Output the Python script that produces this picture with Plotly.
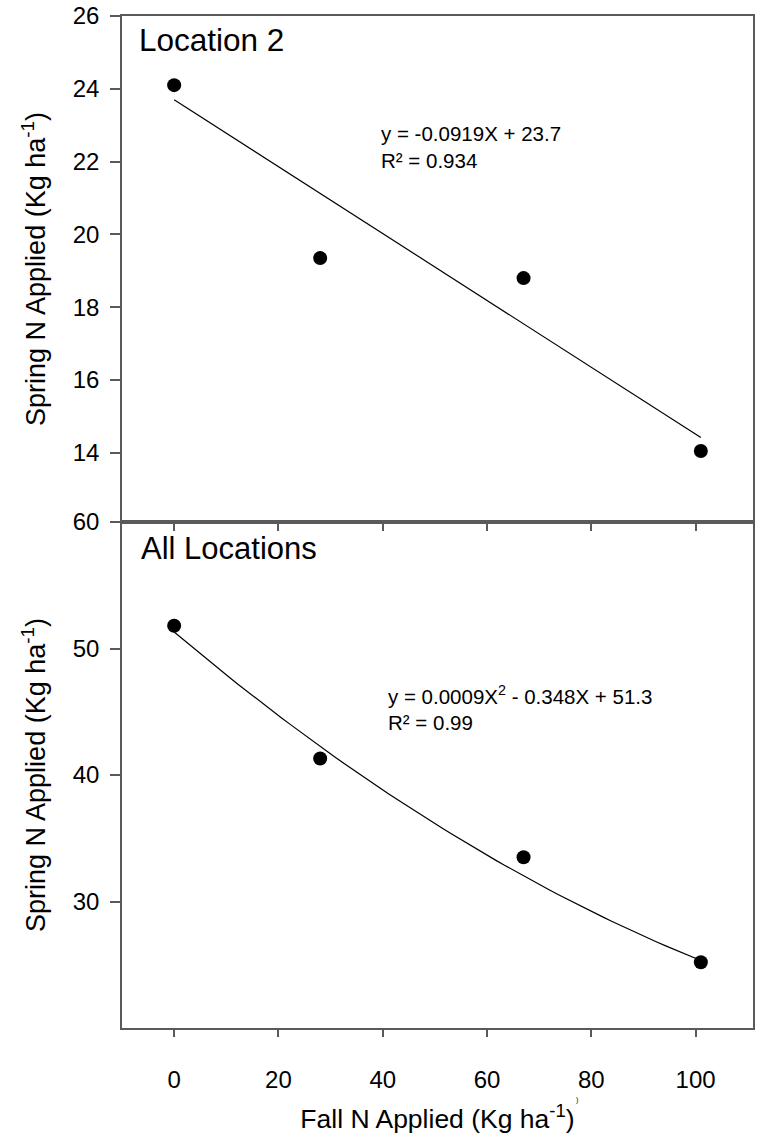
import numpy as np
import plotly.graph_objects as go
from plotly.subplots import make_subplots

# ---- data ----
fall_n = [0, 28, 67, 101]
spring_loc2 = [24.1, 19.35, 18.8, 14.05]
spring_all = [51.8, 41.3, 33.5, 25.2]

# regression coefficients printed on the chart (highest power first)
coef_loc2 = [-0.0919, 23.7]
coef_all = [0.0009, -0.348, 51.3]

x_ticks = [0, 20, 40, 60, 80, 100]
y_ticks_top = [14, 16, 18, 20, 22, 24, 26]
y_ticks_bot = [30, 40, 50, 60]

FONT = "Liberation Sans, Arial, sans-serif"
AXC = "#5a5a5a"

fig = make_subplots(rows=2, cols=1, shared_xaxes=True, vertical_spacing=0)

xfit = np.linspace(min(fall_n), max(fall_n), 60)

fig.add_trace(go.Scatter(x=xfit, y=np.polyval(coef_loc2, xfit), mode="lines",
                         line=dict(color="black", width=1.2), showlegend=False), row=1, col=1)
fig.add_trace(go.Scatter(x=fall_n, y=spring_loc2, mode="markers",
                         marker=dict(color="black", size=14), showlegend=False), row=1, col=1)
fig.add_trace(go.Scatter(x=xfit, y=np.polyval(coef_all, xfit), mode="lines",
                         line=dict(color="black", width=1.2), showlegend=False), row=2, col=1)
fig.add_trace(go.Scatter(x=fall_n, y=spring_all, mode="markers",
                         marker=dict(color="black", size=14), showlegend=False), row=2, col=1)

common_axis = dict(showline=True, linecolor=AXC, linewidth=1.5, mirror=True,
                   ticks="outside", tickcolor=AXC, tickwidth=1.5,
                   showgrid=False, zeroline=False,
                   tickfont=dict(family=FONT, size=24, color="black"))

fig.update_xaxes(range=[-10, 111], tickvals=x_ticks, ticklen=7, **common_axis)
fig.update_xaxes(showticklabels=False, row=1, col=1)
fig.update_xaxes(row=2, col=1, ticklabelstandoff=22,
                 title=dict(text="Fall N Applied (Kg ha<sup>-1</sup>)",
                            font=dict(family=FONT, size=26.5, color="black"), standoff=18))

ytitle = "Spring N Applied (Kg ha<sup>-1</sup>)"
yt_font = dict(family=FONT, size=27, color="black")
fig.update_yaxes(range=[12.1, 26], tickvals=y_ticks_top, ticklen=10, ticklabelstandoff=6,
                 row=1, col=1, title=dict(text=ytitle, font=yt_font, standoff=19), **common_axis)
fig.update_yaxes(range=[20, 60], tickvals=y_ticks_bot, ticklen=10, ticklabelstandoff=6,
                 row=2, col=1, title=dict(text=ytitle, font=yt_font, standoff=19), **common_axis)

ann_font = dict(family=FONT, size=20.5, color="black")
fig.add_annotation(text="Location 2", xref="x domain", yref="y domain", x=0.024, y=0.953,
                   xanchor="left", yanchor="middle", showarrow=False,
                   font=dict(family=FONT, size=31.5, color="black"))
fig.add_annotation(text="All Locations", xref="x2 domain", yref="y2 domain", x=0.027, y=0.948,
                   xanchor="left", yanchor="middle", showarrow=False,
                   font=dict(family=FONT, size=31, color="black"))
fig.add_annotation(text="y = -0.0919X + 23.7<br>R² = 0.934", xref="x domain", yref="y domain",
                   x=(380 - 122) / 633, y=(522 - 147) / 506, xanchor="left", yanchor="middle",
                   align="left", showarrow=False, font=ann_font)
fig.add_annotation(text="y = 0.0009X<sup>2</sup> - 0.348X + 51.3<br>R² = 0.99", xref="x2 domain",
                   yref="y2 domain", x=(387 - 122) / 633, y=(1028 - 708) / 506,
                   xanchor="left", yanchor="middle", align="left", showarrow=False, font=ann_font)
fig.add_annotation(text=")", xref="paper", yref="paper", x=(578 - 122) / 633, y=-(1100 - 1028) / 1012,
                   xanchor="center", yanchor="middle", showarrow=False,
                   font=dict(family=FONT, size=7, color="black"))

fig.update_layout(width=757, height=1142, margin=dict(l=122, r=2, t=16, b=114),
                  paper_bgcolor="white", plot_bgcolor="white",
                  font=dict(family=FONT, color="black"))

# remove the browser's default 8px page margin so the figure sits at the window origin
fig.write_html("out.html", config={"displayModeBar": False},
               post_script="document.body.style.margin='0';")
